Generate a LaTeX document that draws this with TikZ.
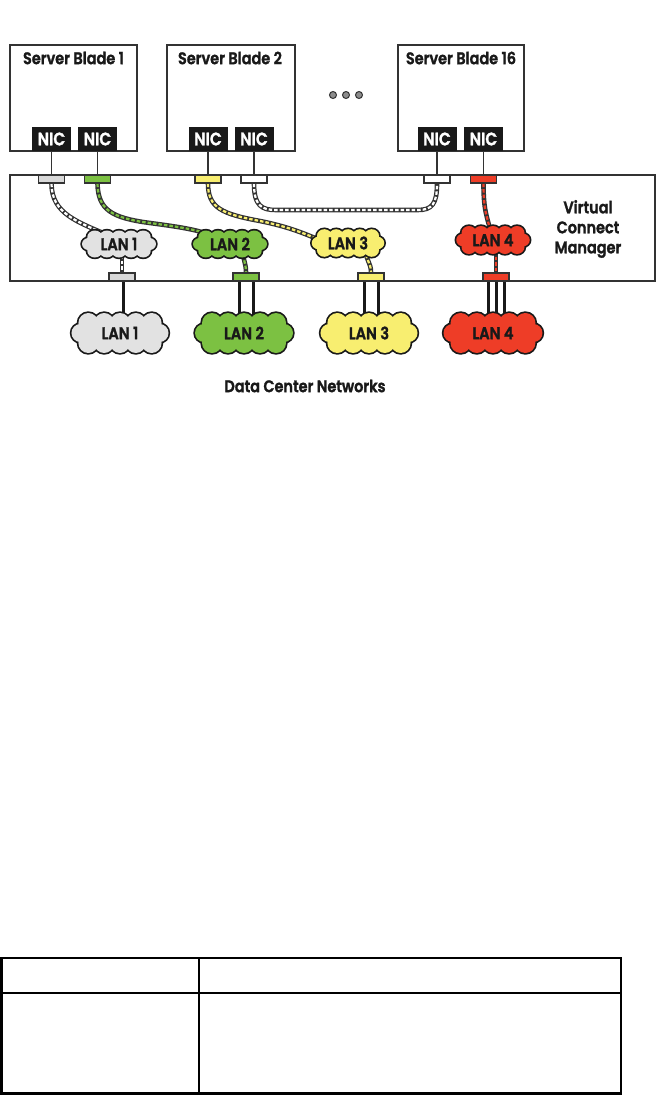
\documentclass[tikz,border=0pt]{standalone}
\usepackage{fontspec}
\IfFontExistsTF{Poppins SemiBold}{%
  \newfontfamily\heavy{Poppins SemiBold}[FakeStretch=0.86,FakeBold=1.6]}{%
  \IfFontExistsTF{Poppins Bold}{%
    \newfontfamily\heavy{Poppins Bold}[FakeStretch=0.86,FakeBold=0.6]}{%
    \newfontfamily\heavy{Poppins}[FakeStretch=0.86,FakeBold=3]}}
\usetikzlibrary{calc}
\pgfdeclarelayer{background}
\pgfdeclarelayer{cloudlayer}
\pgfsetlayers{background,cloudlayer,main}
\definecolor{dk}{HTML}{333333}
\definecolor{lgray}{HTML}{E2E2E2}
\definecolor{pgray}{HTML}{D8D8D8}
\definecolor{lgreen}{HTML}{7CC142}
\definecolor{lyellow}{HTML}{F8EE70}
\definecolor{lred}{HTML}{EE3D27}
\newcommand\cloudpuffs{%
  foreach \cx in {-32,-16,0,16,32}{(\cx,-10) circle[radius=10] (\cx,10) circle[radius=10]}
  (-40,0) circle[radius=9] (40,0) circle[radius=9]}
\begin{document}
\begin{tikzpicture}[x=1pt,y=-1pt,
  txt/.style={font=\heavy\fontsize{16.8}{20}\selectfont, text=black!90, inner sep=0pt},
  blade/.style={draw=dk, line width=1.4pt, fill=white, inner sep=0pt, minimum height=106},
  nic/.style={fill=black!90, text=white, font=\heavy\fontsize{18}{18}\selectfont, inner sep=0pt, minimum width=39, minimum height=24},
  vcbox/.style={draw=dk, line width=1.4pt, inner sep=0pt, minimum width=645, minimum height=106},
  port/.style={draw=dk, line width=1.1pt, inner sep=0pt, minimum width=26, minimum height=8},
  link/.style={draw=dk, line width=1.2pt},
  cable/.style={draw=dk, line width=4.6pt, postaction={draw=#1, line width=2.2pt, dash pattern=on 3.5pt off 2pt}},
  thickline/.style={draw=black!90, line width=3pt},
  lantext/.style={font=\heavy\fontsize{17}{17}\selectfont, text=black!90, inner sep=0pt},
  dotc/.style={circle, draw=dk, line width=1pt, fill=black!45, inner sep=0pt, minimum size=7}
]
\useasboundingbox (0,0) rectangle (657,1095);

% server blades
\node[blade, minimum width=127] (b1) at (73.5,98) {};
\node[blade, minimum width=128] (b2) at (231,98) {};
\node[blade, minimum width=126] (b16) at (461,98) {};
\node[txt] (t1) at (73.5,58) {Server Blade 1};
\node[txt] (t2) at (230,58) {Server Blade 2};
\node[txt] (t16) at (461,58) {Server Blade 16};

\node[dotc] (d1) at (333,95) {};
\node[dotc] (d2) at (346,95) {};
\node[dotc] (d3) at (359,95) {};

% NICs
\node[nic] (n1a) at (51.5,139) {NIC};
\node[nic] (n1b) at (97.5,139) {NIC};
\node[nic] (n2a) at (208,139) {NIC};
\node[nic] (n2b) at (254,139) {NIC};
\node[nic] (n16a) at (437,139) {NIC};
\node[nic] (n16b) at (483.5,139) {NIC};

% Virtual Connect box
\node[vcbox] (vc) at (332.5,228) {};
\node[txt, align=center] (vcm) at (588,229) {Virtual\\Connect\\Manager};

% top ports
\node[port, fill=pgray] (p1a) at (51.5,179) {};
\node[port, fill=lgreen] (p1b) at (97.5,179) {};
\node[port, fill=lyellow] (p2a) at (208,179) {};
\node[port, fill=white] (p2b) at (254,179) {};
\node[port, fill=white] (p16a) at (437,179) {};
\node[port, fill=lred] (p16b) at (483.5,179) {};

% bottom ports
\node[port, fill=pgray] (q1) at (122,277) {};
\node[port, fill=lgreen] (q2) at (246,277) {};
\node[port, fill=lyellow] (q3) at (371,277) {};
\node[port, fill=lred] (q4) at (496,277) {};

% internal LANs (labels)
\node[lantext] (l1) at (119,244) {LAN 1};
\node[lantext] (l2) at (230,244) {LAN 2};
\node[lantext] (l3) at (348,243) {LAN 3};
\node[lantext] (l4) at (493,240) {LAN 4};

% data center LANs (labels)
\node[lantext] (L1) at (120,333) {LAN 1};
\node[lantext] (L2) at (244,333) {LAN 2};
\node[lantext] (L3) at (369,333) {LAN 3};
\node[lantext] (L4) at (493,333) {LAN 4};

\node[txt] (dcn) at (305,386) {Data Center Networks};

% cloud outlines
\begin{pgfonlayer}{cloudlayer}
\foreach \nm/\col/\sx/\sy in {l1/lgray/0.755/0.675, l2/lgreen/0.755/0.675, l3/lyellow/0.74/0.69, l4/lred/0.75/0.7,
    L1/lgray/0.99/1, L2/lgreen/1/1, L3/lyellow/0.99/1, L4/lred/1.01/1}{
  \path[draw=black!90, line width=3.4pt, shift={(\nm.center)}, xscale=\sx, yscale=\sy] \cloudpuffs;
  \path[fill=\col, shift={(\nm.center)}, xscale=\sx, yscale=\sy] \cloudpuffs;
  \path[fill=\col, shift={(\nm.center)}, xscale=\sx, yscale=\sy] (-36,-10) rectangle (36,10);
}
\end{pgfonlayer}

\begin{pgfonlayer}{background}
% NIC to ports
\foreach \n/\p in {n1a/p1a,n1b/p1b,n2a/p2a,n2b/p2b,n16a/p16a,n16b/p16b}
  \draw[link] (\n.south) -- (\p.north);
% cables
\draw[cable=white] (p1a.south) .. controls (51.5,214) and (78,222) .. ($(l1.center)+(-9,-8)$);
\draw[cable=lgreen] (p1b.south) .. controls (98,210) and (112,218) .. (150,223) .. controls (180,227) and (200,230) .. ($(l2.center)+(-18,-8)$);
\draw[cable=lyellow] (p2a.south) .. controls (208,208) and (222,214) .. (260,221) .. controls (290,227) and (305,234) .. ($(l3.center)+(-28,-3)$);
\draw[cable=white] (p2b.south) .. controls (254,206) and (262,210) .. (276,210) -- (418,210) .. controls (432,210) and (437,204) .. (p16a.south);
\draw[cable=lred] (p16b.south) .. controls (483.5,212) and (487,216) .. (l4.center);
\draw[cable=white] (q1.north |- l1.center) -- (q1.north);
\draw[cable=lgreen] (242,244) .. controls (243,262) and (246,262) .. (q2.north);
\draw[cable=lyellow] (364,244) .. controls (366,262) and (371,262) .. (q3.north);
\draw[cable=lred] (q4.north |- l4.center) -- (q4.north);
% uplinks
\draw[thickline] ([xshift=1]q1.south) -- ([xshift=1]q1.south |- L1.center);
\foreach \dx in {-6.5,7.5} \draw[thickline] ([xshift=\dx]q2.south) -- ([xshift=\dx]q2.south |- L2.center);
\foreach \dx in {-7,7.5} \draw[thickline] ([xshift=\dx]q3.south) -- ([xshift=\dx]q3.south |- L3.center);
\foreach \dx in {-8,0.5,8.5} \draw[thickline] ([xshift=\dx]q4.south) -- ([xshift=\dx]q4.south |- L4.center);
\end{pgfonlayer}

% table
\draw[line width=2.2pt] (1.5,958) rectangle (621,1093.5);
\draw[line width=2.2pt] (1.5,993) -- (621,993);
\draw[line width=2.2pt] (199,958) -- (199,1093.5);
\end{tikzpicture}
\end{document}
